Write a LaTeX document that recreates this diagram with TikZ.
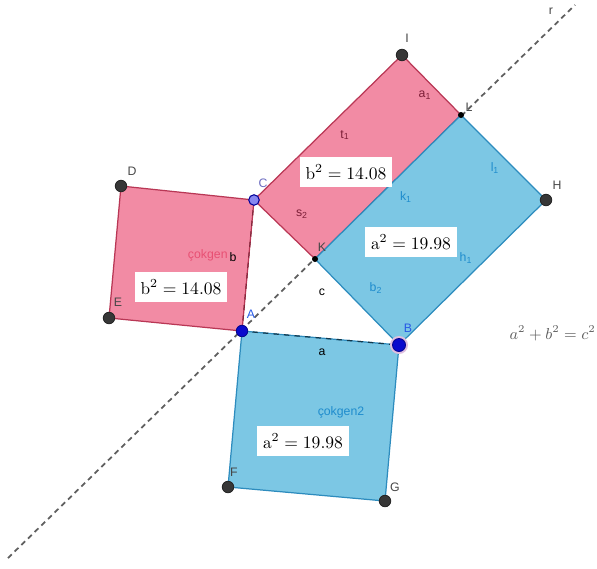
\documentclass[tikz,border=0pt]{standalone}
\usepackage{fontspec}
\newfontfamily\geofont{Liberation Sans}
\usetikzlibrary{positioning}
\usepackage{xcolor}
\definecolor{pinkfill}{RGB}{242,139,164}
\definecolor{pinkedge}{RGB}{185,55,85}
\definecolor{pinklbl}{RGB}{125,30,55}
\definecolor{polyred}{RGB}{232,80,115}
\definecolor{bluefill}{RGB}{124,199,228}
\definecolor{blueedge}{RGB}{45,140,190}
\definecolor{bluelbl}{RGB}{30,140,205}
\definecolor{dotgray}{RGB}{55,55,55}
\definecolor{lblgray}{RGB}{70,70,70}
\definecolor{dotblue}{RGB}{10,10,205}
\definecolor{lblblue}{RGB}{40,90,230}
\definecolor{lavender}{RGB}{135,135,240}
\definecolor{rgray}{RGB}{95,95,95}

\begin{document}
\begin{tikzpicture}[
    x=0.02cm, y=-0.02cm,
    pinkpoly/.style={fill=pinkfill, draw=pinkedge, line width=0.7pt, line join=round},
    bluepoly/.style={fill=bluefill, draw=blueedge, line width=0.7pt, line join=round},
    dot/.style={circle, fill=dotgray, draw=black!85, line width=0.5pt,
                inner sep=0pt, minimum size=0.23cm},
    smalldot/.style={circle, fill=black, inner sep=0pt, minimum size=0.12cm},
    bluedot/.style={circle, fill=dotblue, draw=dotblue!70!black, line width=0.5pt,
                    inner sep=0pt, minimum size=0.23cm},
    ptlbl/.style={font=\geofont\fontsize{7}{8}\selectfont, text=lblgray, inner sep=0pt},
    edgelbl/.style={font=\geofont\fontsize{7}{8}\selectfont, inner sep=0pt},
    valbox/.style={rectangle, fill=white, minimum width=1.84cm, minimum height=0.6cm,
                   inner sep=1pt, font=\fontsize{9.8}{12}\selectfont},
    rline/.style={dash pattern=on 3pt off 2.3pt, line width=1pt, color=rgray},
  ]
    \useasboundingbox (0,0) rectangle (597,568);

    \coordinate (A) at (242,331);
    \coordinate (B) at (399,345);
    \coordinate (C) at (254,200);
    \coordinate (D) at (121,186);
    \coordinate (E) at (109,318);
    \coordinate (F) at (228,487);
    \coordinate (G) at (385,501);
    \coordinate (I) at (402,55);
    \coordinate (L) at (461,115);
    \coordinate (H) at (546,200);
    \coordinate (K) at (315,259);
    \coordinate (r0) at (8,558);
    \coordinate (r1) at (575,5);

    % line r
    \draw[rline] (r0) -- (r1);

    % squares and rectangles
    \draw[pinkpoly] (A) -- (C) -- (D) -- (E) -- cycle;
    \draw[pinkpoly] (C) -- (I) -- (L) -- (K) -- cycle;
    \draw[bluepoly] (K) -- (L) -- (H) -- (B) -- cycle;
    \draw[bluepoly] (A) -- (B) -- (G) -- (F) -- cycle;

    % sides of the triangle
    \draw[pinkedge!70!black, dashed, line width=0.7pt] (A) -- (C);
    \draw[blueedge!40!black, dashed, line width=0.7pt] (A) -- (B);

    % value boxes
    \node[valbox] (bsq1) at (346,172) {$\mathrm{b}^2 = 14.08$};
    \node[valbox] (asq1) at (411,242) {$\mathrm{a}^2 = 19.98$};
    \node[valbox] (bsq2) at (181,287) {$\mathrm{b}^2 = 14.08$};
    \node[valbox] (asq2) at (303,441) {$\mathrm{a}^2 = 19.98$};

    % edge and polygon labels
    \node[edgelbl, text=pinklbl] (a1) at (425,95)  {a\textsubscript{1}};
    \node[edgelbl, text=pinklbl] (t1) at (345,135) {t\textsubscript{1}};
    \node[edgelbl, text=pinklbl] (s2) at (302,214) {s\textsubscript{2}};
    \node[edgelbl, text=bluelbl] (k1) at (406,197) {k\textsubscript{1}};
    \node[edgelbl, text=bluelbl] (l1) at (495,168) {l\textsubscript{1}};
    \node[edgelbl, text=bluelbl] (h1) at (466,258) {h\textsubscript{1}};
    \node[edgelbl, text=bluelbl] (b2) at (376,288) {b\textsubscript{2}};
    \node[edgelbl] (lc) at (322,292) {c};
    \node[edgelbl] (lb) at (233,257) {b};
    \node[edgelbl] (la) at (322,352) {a};
    \node[edgelbl, text=polyred, anchor=east] (poly1) at (228,255) {çokgen};
    \node[edgelbl, text=bluelbl] (poly2) at (341,412) {çokgen2};
    \node[ptlbl] (lr) at (551,11) {r};

    % formula
    \node[anchor=east, text=rgray, inner sep=0pt, font=\fontsize{9}{11}\selectfont]
      (pyth) at (596,333) {$a^2+b^2=c^2$};

    % points
    \node[dot] (pD) at (D) {};
    \node[dot] (pE) at (E) {};
    \node[dot] (pF) at (F) {};
    \node[dot] (pG) at (G) {};
    \node[dot] (pI) at (I) {};
    \node[dot] (pH) at (H) {};
    \node[smalldot] (pK) at (K) {};
    \node[smalldot] (pL) at (L) {};
    \node[circle, fill=lavender, draw=blue!60!black, line width=0.6pt,
          inner sep=0pt, minimum size=0.21cm] (pC) at (C) {};
    \node[bluedot] (pA) at (A) {};
    \node[circle, fill=violet!25, inner sep=0pt, minimum size=0.36cm] (glowB) at (B) {};
    \node[bluedot, minimum size=0.26cm] (pB) at (B) {};

    % point labels
    \node[ptlbl] (lD) at (132,171) {D};
    \node[ptlbl] (lE) at (118,302) {E};
    \node[ptlbl] (lF) at (234,472) {F};
    \node[ptlbl] (lG) at (395,487) {G};
    \node[ptlbl] (lI) at (407,38)  {I};
    \node[ptlbl] (lH) at (557,185) {H};
    \node[ptlbl] (lL) at (469,107) {L};
    \node[ptlbl] (lK) at (322,247) {K};
    \node[ptlbl, text=lavender!80!black] (lC) at (263,183) {C};
    \node[ptlbl, text=lblblue] (lA) at (251,314) {A};
    \node[ptlbl, text=lblblue] (lB) at (408,328) {B};
\end{tikzpicture}
\end{document}
